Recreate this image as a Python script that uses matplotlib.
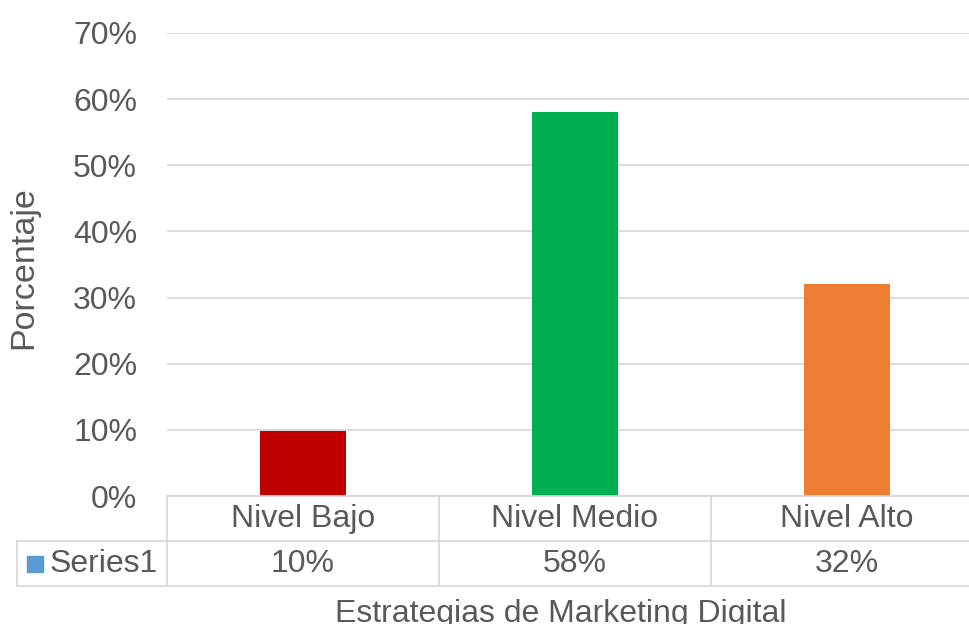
import matplotlib
matplotlib.use("Agg")
import matplotlib.pyplot as plt
from matplotlib.patches import Rectangle
from matplotlib.lines import Line2D

# datos
categorias = ["Nivel Bajo", "Nivel Medio", "Nivel Alto"]
valores = [0.098, 0.58, 0.32]
colores = ["#C00000", "#00B050", "#ED7D31"]
serie = "Series1"
yticks = [0, 0.1, 0.2, 0.3, 0.4, 0.5, 0.6, 0.7]

W, H = 969, 624
gris = "#595959"
borde = "#D9D9D9"
fs = 23

plt.rcParams["font.family"] = ["Liberation Sans", "DejaVu Sans"]

fig = plt.figure(figsize=(W / 100, H / 100), dpi=100)
# area del grafico: x 167..983 px, y 33..496 px
ax = fig.add_axes([167 / W, 1 - 496 / H, (983 - 167) / W, (496 - 33) / H])

x = range(len(categorias))
ax.bar(x, valores, width=0.316, color=colores, zorder=3)
ax.set_xlim(-0.5, len(categorias) - 0.5)
ax.set_ylim(0, 0.7)
ax.set_yticks(yticks)
ax.set_yticklabels([f"{int(round(t * 100))}%" for t in yticks], fontsize=fs, color=gris)
ax.tick_params(axis="y", length=0, pad=21.5)
ax.set_xticks([])
ax.grid(axis="y", color=borde, linewidth=1.3, zorder=0)
for s in ax.spines.values():
    s.set_visible(False)

# tabla de datos (en pixeles de la figura)
def px(xp, yp):
    return xp / W, 1 - yp / H

def linea(x0, y0, x1, y1):
    (a, b), (c, d) = px(x0, y0), px(x1, y1)
    fig.add_artist(Line2D([a, c], [b, d], color=borde, linewidth=1.3))

col_w = (983 - 167) / len(categorias)
linea(167, 496, 983, 496)
linea(17, 541, 983, 541)
linea(17, 586, 983, 586)
linea(17, 541, 17, 586)
for i in range(len(categorias)):
    xb = 167 + i * col_w
    linea(xb, 496, xb, 586)
    xc = xb + col_w / 2
    fig.text(*px(xc, 519), categorias[i], ha="center", va="center", fontsize=fs, color=gris)
    fig.text(*px(xc, 564), f"{int(round(valores[i] * 100))}%", ha="center", va="center",
             fontsize=fs, color=gris)

# clave de leyenda
kx, ky = px(27, 572)
fig.add_artist(Rectangle((kx, ky), 16 / W, 16 / H, color="#5B9BD5", transform=fig.transFigure))
fig.text(*px(50, 564), serie, ha="left", va="center", fontsize=fs, color=gris)

# titulos de ejes (el de abajo queda recortado como en el original)
fig.text(*px(561, 622), "Estrategias de Marketing Digital", ha="center", va="baseline",
         fontsize=fs, color=gris)
fig.text(*px(24, 268), "Porcentaje", ha="center", va="center", rotation=90,
         fontsize=24.5, color=gris)

fig.savefig("out.png", dpi=100)
